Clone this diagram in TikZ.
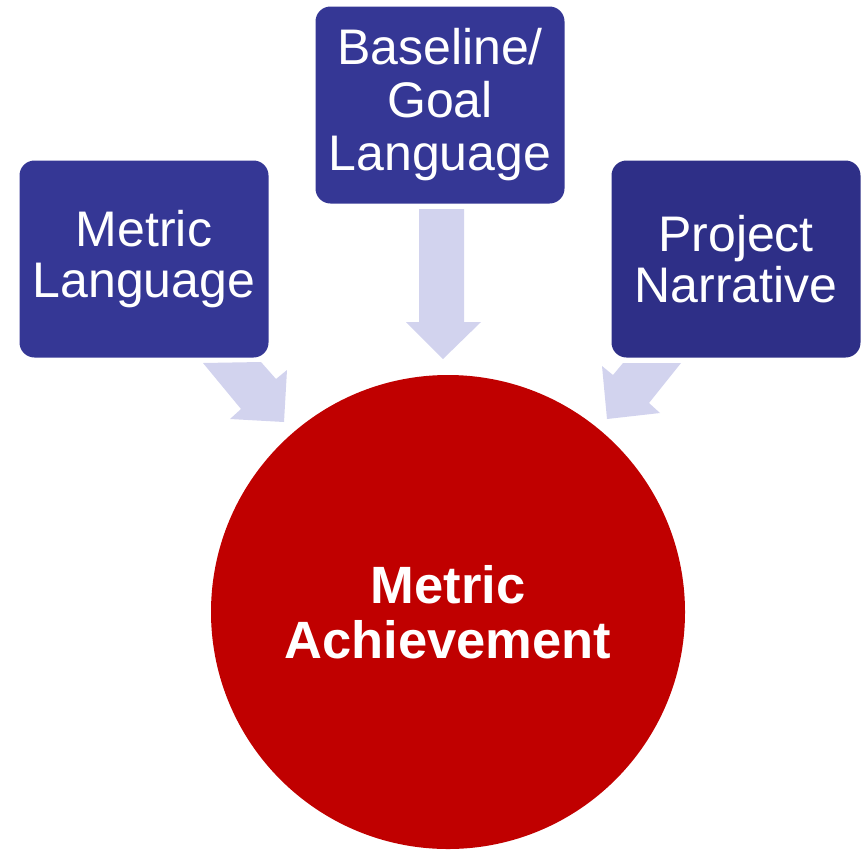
\documentclass[tikz,border=0pt]{standalone}
\usepackage{fontspec}
\setmainfont{Liberation Sans}

\definecolor{inputblue}{HTML}{353795}
\definecolor{inputdark}{HTML}{2E2F87}
\definecolor{feedblue}{HTML}{D2D3EE}
\definecolor{resultred}{HTML}{C00000}

\begin{document}
\begin{tikzpicture}[
    x=1pt, y=-1pt,
    input/.style={rectangle, rounded corners=15pt, fill=inputblue, text=white,
        minimum width=249pt, minimum height=197pt, inner sep=0pt, align=center,
        font=\fontsize{50}{51}\selectfont},
    result/.style={circle, fill=resultred, text=white, minimum size=474pt,
        inner sep=0pt, align=center, font=\bfseries\fontsize{52.5}{55}\selectfont},
    feed/.style={fill=feedblue, draw=none}
]
    \useasboundingbox (0,0) rectangle (864,849);

    % the three inputs
    \node[input] (metric) at (144,259) {Metric\\Language};
    \node[input, font=\fontsize{50}{53}\selectfont] (baseline) at (440,105) {Baseline/\\Goal\\Language};
    \node[input, fill=inputdark] (narrative) at (736,259) {Project\\Narrative};

    % the outcome
    \node[result] (achievement) at (448,612) {Metric\\Achievement};

    % block arrows feeding the circle
    \fill[feed] (419,209) -- (464,209) -- (464,322) -- (481,322)
        -- (443,359) -- (406,322) -- (419,322) -- cycle;
    \fill[feed] (203,363) -- (261,362) -- (276,379) -- (287,370)
        -- (284,422) -- (230,419) -- (241,409) -- cycle;
    \fill[feed] (623,363) -- (681,363) -- (649,403) -- (660,413)
        -- (607,419) -- (602,366) -- (613,375) -- cycle;
\end{tikzpicture}
\end{document}
